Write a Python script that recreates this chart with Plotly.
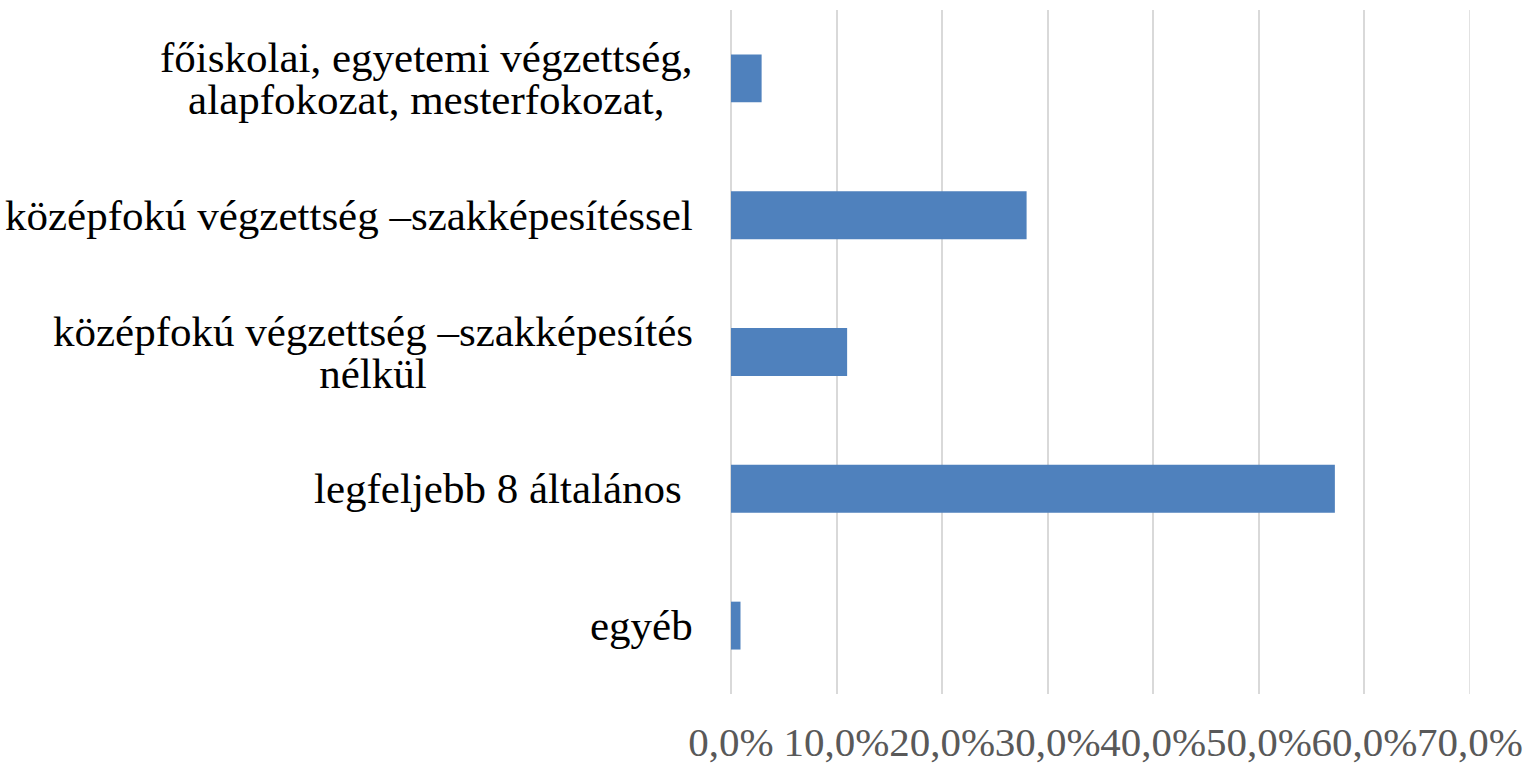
import plotly.graph_objects as go

categories = [
    "főiskolai, egyetemi végzettség,<br>alapfokozat, mesterfokozat,",
    "középfokú végzettség –szakképesítéssel",
    "középfokú végzettség –szakképesítés<br>nélkül",
    "legfeljebb 8 általános\u00a0",
    "egyéb",
]
values = [0.029, 0.28, 0.11, 0.572, 0.009]
tick_vals = [0, 0.1, 0.2, 0.3, 0.4, 0.5, 0.6, 0.7]

fig = go.Figure()
fig.add_trace(go.Bar(
    y=categories, x=values, orientation="h",
    marker=dict(color="#4F81BD", line=dict(width=0)),
    width=0.35,
))

for cat in categories:
    lines = cat.split("<br>")
    styled = "<br>".join('<span style="font-size:43px">%s</span>' % ln for ln in lines)
    fig.add_annotation(
        x=0, xref="paper", y=cat, yref="y",
        text=styled, showarrow=False, xanchor="right", yanchor="middle",
        align="center", xshift=-36,
        font=dict(family="Liberation Serif", size=32, color="#000000"),
    )

# gridline at the right edge of the range (plotly drops edge gridlines)
fig.add_shape(
    type="line", xref="x", yref="paper",
    x0=tick_vals[-1], x1=tick_vals[-1], y0=0, y1=1,
    line=dict(color="#D9D9D9", width=1.5), layer="below",
)

fig.update_layout(
    width=1525, height=767,
    margin=dict(l=731, r=55, t=10, b=73, autoexpand=False),
    paper_bgcolor="white", plot_bgcolor="white",
    separators=", ",
    showlegend=False,
    xaxis=dict(
        range=[0, 0.7], tickvals=tick_vals, tickformat=".1%",
        tickangle=0,
        showgrid=True, gridcolor="#D9D9D9", gridwidth=1.5,
        zeroline=True, zerolinecolor="#D9D9D9", zerolinewidth=1.5,
        showline=False, automargin=False,
        ticks="outside", ticklen=12, tickcolor="rgba(0,0,0,0)",
        tickfont=dict(family="Liberation Serif", size=41, color="#595959"),
    ),
    yaxis=dict(
        autorange="reversed", showticklabels=False, showgrid=False,
        zeroline=False, showline=False, automargin=False,
    ),
)

fig.write_html("out.html", config={"displayModeBar": False},
               post_script="document.body.style.margin='0';")
